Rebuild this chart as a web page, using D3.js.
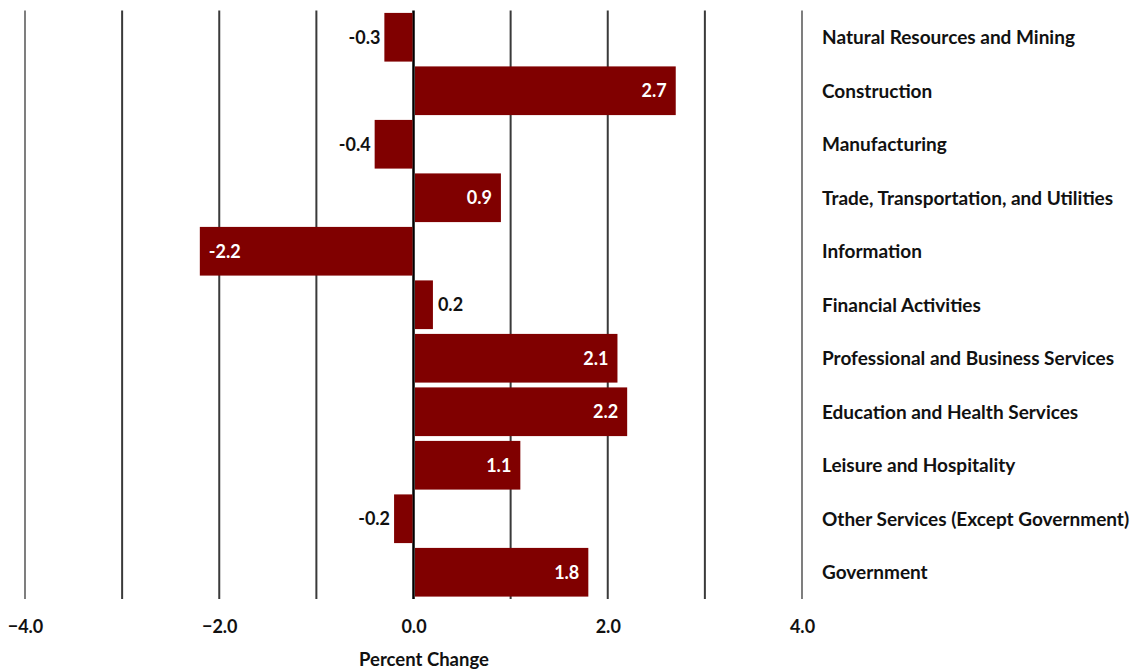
<!DOCTYPE html>
<html>
<head>
<meta charset="utf-8">
<script src="https://cdn.jsdelivr.net/npm/d3@7"></script>
<style>
  html, body { margin: 0; padding: 0; background: #fff; }
  svg text { font-family: Lato, "Open Sans", sans-serif; font-weight: 700; }
</style>
</head>
<body>
<svg id="chart" width="1133" height="669"></svg>
<script>
// Percent change in employment by industry sector
const categories = [
  "Natural Resources and Mining",
  "Construction",
  "Manufacturing",
  "Trade, Transportation, and Utilities",
  "Information",
  "Financial Activities",
  "Professional and Business Services",
  "Education and Health Services",
  "Leisure and Hospitality",
  "Other Services (Except Government)",
  "Government"
];
const values = [-0.3, 2.7, -0.4, 0.9, -2.2, 0.2, 2.1, 2.2, 1.1, -0.2, 1.8];
const tickValues = [-4, -2, 0, 2, 4];
const gridValues = [-4, -3, -2, -1, 0, 1, 2, 3, 4];

const svg = d3.select("#chart");
const plot = { left: 25, right: 802, top: 10.5, bottom: 599 };

const x = d3.scaleLinear().domain([-4, 4]).range([plot.left, plot.right]);
const y = d3.scaleBand().domain(categories).range([plot.top, plot.bottom]).paddingInner(0.09).paddingOuter(0.045);

// vertical gridlines
svg.append("g").selectAll("line").data(gridValues).join("line")
  .attr("x1", d => x(d)).attr("x2", d => x(d))
  .attr("y1", plot.top).attr("y2", plot.bottom)
  .attr("stroke", d => d === 0 ? "#000" : "#3a3a3a")
  .attr("stroke-width", d => d === 0 ? 2.5 : (Math.abs(d) === 4 ? 1.3 : 2));

// bars
svg.append("g").selectAll("rect").data(values).join("rect")
  .attr("x", d => x(Math.min(0, d)) + (d > 0 ? 1.5 : 0))
  .attr("width", d => Math.abs(x(d) - x(0)) - (d > 0 ? 1.5 : 1))
  .attr("y", (d, i) => y(categories[i]))
  .attr("height", y.bandwidth())
  .attr("fill", "#800000");

// value labels: inside the bar end in white when it fits, otherwise outside in black
const fits = d => Math.abs(d) >= 0.5;
svg.append("g").selectAll("text").data(values).join("text")
  .attr("x", d => {
    if (d >= 0) return fits(d) ? x(d) - 9 : x(d) + 5;
    return fits(d) ? x(d) + 9 : x(d) - 4;
  })
  .attr("y", (d, i) => y(categories[i]) + y.bandwidth() / 2)
  .attr("dy", "0.36em")
  .attr("text-anchor", d => (d >= 0) === fits(d) ? "end" : "start")
  .attr("fill", d => fits(d) ? "#fff" : "#111")
  .attr("font-size", 18)
  .text(d => d.toFixed(1));

// category labels on the right
svg.append("g").selectAll("text").data(categories).join("text")
  .attr("x", 822)
  .attr("y", d => y(d) + y.bandwidth() / 2)
  .attr("dy", "0.36em")
  .attr("font-size", 19)
  .attr("fill", "#111")
  .text(d => d);

// x axis tick labels
const axis = d3.axisBottom(x).tickValues(tickValues).tickSize(0).tickPadding(0)
  .tickFormat(d3.format(".1f"));
const gAxis = svg.append("g").attr("transform", `translate(0, 620)`).call(axis);
gAxis.select(".domain").remove();
gAxis.selectAll("text")
  .attr("font-size", 18)
  .attr("fill", "#111")
  .style("font-family", "Lato, sans-serif")
  .style("font-weight", 700);

// axis title
svg.append("text")
  .attr("x", 424).attr("y", 666)
  .attr("text-anchor", "middle")
  .attr("font-size", 18.5)
  .attr("fill", "#111")
  .text("Percent Change");
</script>
</body>
</html>
